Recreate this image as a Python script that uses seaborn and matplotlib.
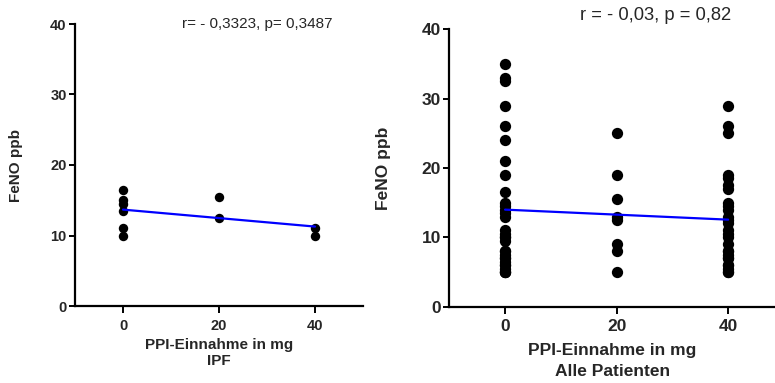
import matplotlib
matplotlib.use("Agg")
import matplotlib.pyplot as plt
import seaborn as sns
import pandas as pd

sns.set_style("ticks")
plt.rcParams['font.family'] = ['Liberation Sans', 'DejaVu Sans']

# Left panel: IPF
ipf_dose = [0, 0, 0, 0, 0, 0, 20, 20, 40, 40]
ipf_feno = [16.5, 15, 14.5, 13.5, 11, 10, 15.5, 12.5, 11, 10]

# Right panel: all patients
all_dose_0 = [35, 33, 32.5, 29, 26, 24, 21, 19, 16.5, 15, 14.5, 14, 13.5, 13,
              11, 10.5, 10, 9.5, 8, 7.5, 7, 6.5, 6, 5.5, 5, 5, 5, 6, 7, 8, 10]
all_dose_20 = [25, 19, 15.5, 13, 12.5, 9, 8, 5]
all_dose_40 = [29, 26, 25, 19, 18.5, 17.5, 17, 15, 14.5, 14, 13, 12.5, 12,
               11, 10.5, 10, 9, 8, 7.5, 7, 6, 5.5, 5, 5, 6, 8, 7]

yticks = [0, 10, 20, 30, 40]
xticks = [0, 20, 40]

df_ipf = pd.DataFrame({"dose": ipf_dose, "feno": ipf_feno})
df_all = pd.DataFrame({
    "dose": [0] * len(all_dose_0) + [20] * len(all_dose_20) + [40] * len(all_dose_40),
    "feno": all_dose_0 + all_dose_20 + all_dose_40,
})

fig = plt.figure(figsize=(7.75, 3.83), dpi=100)
ax1 = fig.add_axes([75 / 775, 1 - 306 / 383, 288 / 775, 282 / 383])
ax2 = fig.add_axes([449.3 / 775, 1 - 306.7 / 383, (775 - 449.3) / 775, 277.4 / 383])


def style(ax, xmax, fs_tick, fs_lab, xlabel, ylabel, ls, lpad):
    ax.set_xlim(-10, xmax)
    ax.set_ylim(0, 40)
    ax.set_xticks(xticks)
    ax.set_yticks(yticks)
    for s in ["top", "right"]:
        ax.spines[s].set_visible(False)
    for s in ["left", "bottom"]:
        ax.spines[s].set_linewidth(1.6)
        ax.spines[s].set_color("black")
    ax.tick_params(axis="both", direction="out", width=1.4, length=4,
                   color="black", labelsize=fs_tick, pad=2)
    ax.tick_params(axis="x", length=5, pad=4)
    for lab in ax.get_xticklabels() + ax.get_yticklabels():
        lab.set_fontweight("bold")
    ax.set_xlabel(xlabel, fontsize=fs_lab, fontweight="bold", linespacing=ls, labelpad=lpad)
    ax.set_ylabel(ylabel, fontsize=fs_lab, fontweight="bold")
    ax.grid(False)


sns.regplot(data=df_ipf, x="dose", y="feno", ax=ax1, ci=None, truncate=True,
            scatter_kws=dict(s=46, color="black", alpha=1, linewidths=0),
            line_kws=dict(color="#0000ff", lw=1.6))
style(ax1, 50, 10.5, 11, "PPI-Einnahme in mg\nIPF", "FeNO ppb", 1.2, 4)
ax1.yaxis.set_label_coords(-0.18, 0.5)

sns.regplot(data=df_all, x="dose", y="feno", ax=ax2, ci=None, truncate=True,
            scatter_kws=dict(s=66, color="black", alpha=1, linewidths=0),
            line_kws=dict(color="#0000ff", lw=1.6))
style(ax2, 48.4, 12.5, 12.5, "PPI-Einnahme in mg\nAlle Patienten", "FeNO ppb", 1.55, 6)
ax2.yaxis.set_label_coords(-0.179, 0.5)

fig.text(182 / 775, 1 - 24 / 383, "r= - 0,3323, p= 0,3487", fontsize=11,
         va="center", ha="left")
fig.text(580 / 775, 1 - 15 / 383, "r = - 0,03, p = 0,82", fontsize=13.2,
         va="center", ha="left")

fig.savefig("out.png", dpi=100)
